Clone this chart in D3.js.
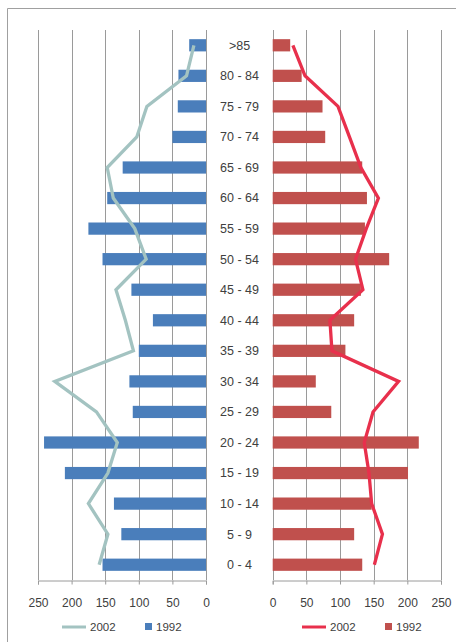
<!DOCTYPE html>
<html>
<head>
<meta charset="utf-8">
<script src="https://cdn.jsdelivr.net/npm/d3@7/dist/d3.min.js"></script>
<style>
  html, body { margin: 0; padding: 0; background: #fff; }
  svg { display: block; font-family: "Liberation Sans", Arial, sans-serif; }
</style>
</head>
<body>
<svg id="chart" width="456" height="642"></svg>
<script>
const ageGroups = [">85", "80 - 84", "75 - 79", "70 - 74", "65 - 69", "60 - 64", "55 - 59",
  "50 - 54", "45 - 49", "40 - 44", "35 - 39", "30 - 34", "25 - 29", "20 - 24",
  "15 - 19", "10 - 14", "5 - 9", "0 - 4"];

// left panel (blue bars 1992, teal line 2002)
const left1992 = [25, 41, 42, 50, 124, 147, 175, 154, 111, 79, 100, 114, 109, 241, 210, 137, 126, 154];
const left2002 = [18, 29, 88, 103, 147, 138, 106, 89, 134, 120, 108, 225, 163, 132, 146, 175, 146, 159];

// right panel (red bars 1992, red line 2002)
const right1992 = [26, 43, 74, 78, 133, 140, 137, 173, 131, 121, 108, 64, 87, 217, 201, 147, 121, 133];
const right2002 = [30, 48, 97, 114, 131, 157, 139, 123, 134, 85, 88, 187, 149, 136, 143, 147, 163, 151];

const tickValues = [0, 50, 100, 150, 200, 250];
const legendLabels = ["2002", "1992"];

const svg = d3.select("#chart");
const plotTop = 30;
const plotBottom = 580;

const y = d3.scaleBand()
  .domain(ageGroups)
  .range([plotTop, plotBottom])
  .paddingInner(0.6)
  .paddingOuter(0.3);

const xLeft = d3.scaleLinear().domain([0, 250]).range([206, 38]);
const xRight = d3.scaleLinear().domain([0, 250]).range([272.7, 441]);

// outer frame
svg.append("path")
  .attr("d", "M7.5,642 V8.5 H456")
  .attr("fill", "none")
  .attr("stroke", "#a0a0a0")
  .attr("stroke-width", 1);

function panel(x, bars, line, barColor, lineColor, side) {
  const g = svg.append("g");

  g.append("g")
    .selectAll("line")
    .data(tickValues)
    .join("line")
    .attr("x1", (d) => Math.round(x(d)) + 0.5)
    .attr("x2", (d) => Math.round(x(d)) + 0.5)
    .attr("y1", plotTop)
    .attr("y2", plotBottom)
    .attr("stroke", "#9a9a9a")
    .attr("stroke-width", 1);

  const axis = g.append("g")
    .attr("transform", `translate(0,${plotBottom + 0.5})`)
    .call(d3.axisBottom(x).tickValues(tickValues).tickSize(4).tickPadding(14));
  axis.select(".domain").attr("stroke", "#9a9a9a");
  axis.selectAll(".tick line").attr("stroke", "#9a9a9a");
  axis.selectAll(".tick text")
    .attr("font-size", 12)
    .attr("fill", "#404040")
    .attr("font-family", "Liberation Sans, Arial, sans-serif");

  g.append("g")
    .selectAll("rect")
    .data(ageGroups)
    .join("rect")
    .attr("x", (d, i) => Math.min(x(0), x(bars[i])))
    .attr("width", (d, i) => Math.abs(x(bars[i]) - x(0)))
    .attr("y", (d) => y(d))
    .attr("height", y.bandwidth())
    .attr("fill", barColor);

  const path = d3.line()
    .x((d) => x(d.v))
    .y((d) => y(d.g) + y.bandwidth() / 2);

  g.append("path")
    .datum(ageGroups.map((g, i) => ({ g, v: line[i] })))
    .attr("fill", "none")
    .attr("stroke", lineColor)
    .attr("stroke-width", 3.3)
    .attr("stroke-linejoin", "miter")
    .attr("d", path);

  // legend
  const lx = side === "left" ? 62 : 302;
  const ly = 627;
  const leg = g.append("g").attr("font-size", 11.5).attr("fill", "#404040");
  leg.append("line")
    .attr("x1", lx).attr("x2", lx + 24)
    .attr("y1", ly).attr("y2", ly)
    .attr("stroke", lineColor).attr("stroke-width", 3);
  leg.append("text")
    .attr("x", lx + 28).attr("y", ly + 4)
    .text(legendLabels[0]);
  leg.append("rect")
    .attr("x", lx + 83).attr("y", ly - 4)
    .attr("width", 7).attr("height", 7)
    .attr("fill", barColor);
  leg.append("text")
    .attr("x", lx + 94).attr("y", ly + 4)
    .text(legendLabels[1]);
}

panel(xLeft, left1992, left2002, "#4a7ebb", "#a3c3c1", "left");
panel(xRight, right1992, right2002, "#c0504d", "#e8304c", "right");

svg.append("g")
  .selectAll("text")
  .data(ageGroups)
  .join("text")
  .attr("x", 239.5)
  .attr("y", (d) => y(d) + y.bandwidth() / 2)
  .attr("dy", "0.35em")
  .attr("text-anchor", "middle")
  .attr("font-size", 12.5)
  .attr("fill", "#404040")
  .text((d) => d);
</script>
</body>
</html>
